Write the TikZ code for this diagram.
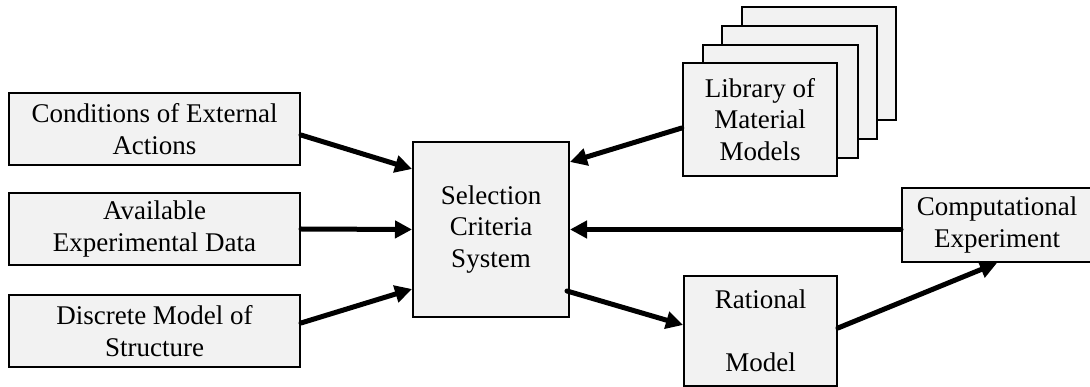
\documentclass[tikz,border=0pt]{standalone}
\usepackage{fontspec}
\setmainfont{Liberation Serif}
\usetikzlibrary{arrows.meta}
\definecolor{boxgray}{HTML}{F2F2F2}
\begin{document}
\begin{tikzpicture}[x=1pt,y=-1pt,
  box/.style={draw=black,line width=2pt,fill=boxgray,inner sep=0pt,align=center,
    font=\fontsize{27}{31.5}\selectfont},
  leftbox/.style={box,minimum width=291pt,minimum height=72pt},
  libbox/.style={box,minimum width=154.5pt,minimum height=113pt},
  conn/.style={line width=5pt,line cap=round,-{Triangle[length=17pt,width=17pt]}}]
\useasboundingbox (0,0) rectangle (1090,387);

% left inputs
\node[leftbox] (cond)  at (154.5,129) {Conditions of External\\Actions};
\node[leftbox] (avail) at (154.5,229) {Available\\Experimental Data};
\node[leftbox] (disc)  at (154.5,331) {Discrete Model of\\Structure};

% central box
\node[box,minimum width=156pt,minimum height=175pt] (sel) at (491,229.5) {Selection\\Criteria\\System};

% library stack
\node[libbox] (lib3) at (818.9,63.6) {};
\node[libbox] (lib2) at (799.6,82.9) {};
\node[libbox] (lib1) at (780.3,101.2) {};
\node[libbox] (lib)  at (760,119.5) {Library of\\Material\\Models};

% right boxes
\node[box,minimum width=190pt,minimum height=74pt] (comp) at (997,225) {Computational\\Experiment};
\node[box,minimum width=153pt,minimum height=110pt] (rat) at (760.5,331) {Rational\\[31.5pt]Model};

% connectors
\draw[conn] ([yshift=-6pt]cond.east) -- ([yshift=-28pt]sel.north west);
\draw[conn] (avail.east) -- (sel.west);
\draw[conn] ([yshift=8pt]disc.east) -- ([yshift=29pt]sel.south west);
\draw[conn] ([yshift=-8.5pt]lib.west) -- ([yshift=-21pt]sel.north east);
\draw[conn] ([yshift=-4.5pt]comp.west) -- (sel.east);
\draw[conn] ([yshift=27pt,xshift=-3pt]sel.south east) -- ([yshift=6pt]rat.west);
\draw[conn] ([yshift=3pt]rat.east) -- (comp.south);
\end{tikzpicture}
\end{document}
